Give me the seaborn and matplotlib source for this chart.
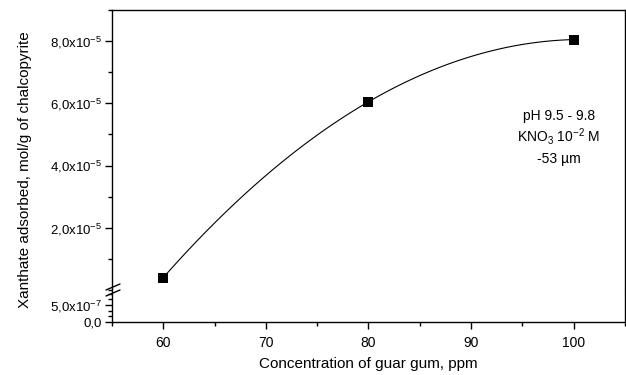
import matplotlib
matplotlib.use("Agg")
import matplotlib.pyplot as plt
from matplotlib.ticker import FixedLocator, MultipleLocator, FuncFormatter
import seaborn as sns
import pandas as pd

# Guar gum dosage (ppm) and xanthate adsorbed on chalcopyrite (mol/g)
guar_ppm = [60, 80, 100]
xanthate_adsorbed = [4.0e-6, 6.05e-5, 8.05e-5]

x_ticks = [60, 70, 80, 90, 100]
upper_ticks = [2.0e-5, 4.0e-5, 6.0e-5, 8.0e-5]
upper_labels = ["2,0x10$^{-5}$", "4,0x10$^{-5}$", "6,0x10$^{-5}$", "8,0x10$^{-5}$"]
lower_ticks = [0.0, 5.0e-7]
lower_labels = ["0,0", "5,0x10$^{-7}$"]
conditions = ["pH 9.5 - 9.8", "KNO$_3$ 10$^{-2}$ M", "-53 \u00b5m"]

df = pd.DataFrame({"guar": guar_ppm, "xanthate": xanthate_adsorbed})

sns.set_theme(style="ticks")
plt.rcParams["font.family"] = ["Liberation Sans", "DejaVu Sans"]
plt.rcParams["mathtext.default"] = "regular"
plt.rcParams["axes.linewidth"] = 1.0
plt.rcParams["xtick.major.width"] = 1.0
plt.rcParams["ytick.major.width"] = 1.0
plt.rcParams["xtick.minor.width"] = 1.0
plt.rcParams["ytick.minor.width"] = 1.0

W, H = 626, 375
fig = plt.figure(figsize=(W / 100, H / 100), dpi=100)

left, right = 112 / W, 625 / W
y_top, y_break, y_bottom = 10, 290, 322
ax = fig.add_axes([left, 1 - y_break / H, right - left, (y_break - y_top) / H])
axl = fig.add_axes([left, 1 - y_bottom / H, right - left, (y_bottom - y_break) / H], sharex=ax)

for a in (ax, axl):
    a.set_facecolor("white")
    for s in a.spines.values():
        s.set_color("black")
    a.tick_params(colors="black", labelcolor="black", labelsize=9.5,
                  direction="out", which="major", length=5, pad=2.5)
    a.tick_params(which="minor", direction="out", length=3, colors="black")

# fitted curve through the measurements, then the measured points
sns.regplot(data=df, x="guar", y="xanthate", order=2, ci=None, scatter=False,
            truncate=True, ax=ax, line_kws=dict(color="black", lw=0.8))
sns.scatterplot(data=df, x="guar", y="xanthate", ax=ax, marker="s", s=55,
                color="black", edgecolor="black", linewidth=0, zorder=5)

ax.set_xlim(55, 105)
ax.set_ylim(0, 9e-5)
ax.yaxis.set_major_locator(FixedLocator(upper_ticks))
ax.set_yticklabels(upper_labels)
ax.yaxis.set_minor_locator(MultipleLocator(1e-5))
ax.spines["bottom"].set_visible(False)
ax.tick_params(axis="x", which="both", bottom=False, labelbottom=False)
ax.set_xlabel("")
ax.set_ylabel("")

axl.set_ylim(0, (y_bottom - y_break) / 17 * 5e-7)
axl.yaxis.set_major_locator(FixedLocator(lower_ticks))
axl.set_yticklabels(lower_labels)
axl.yaxis.set_minor_locator(MultipleLocator(5e-7 / 3))
axl.spines["top"].set_visible(False)
axl.xaxis.set_major_locator(FixedLocator(x_ticks))
axl.xaxis.set_minor_locator(MultipleLocator(5))
axl.xaxis.set_major_formatter(FuncFormatter(lambda v, p: f"{v:.0f}"))
axl.tick_params(axis="x", labelsize=10, pad=5)
axl.set_xlabel("Concentration of guar gum, ppm", fontsize=11, color="black", labelpad=5)

fig.text(25 / W, 1 - 170 / H, "Xanthate adsorbed, mol/g of chalcopyrite",
         rotation=90, ha="center", va="center", fontsize=11, color="black")

# axis break marks on the left spine
for dy in (-3, 3):
    yb = 1 - (y_break + dy) / H
    fig.add_artist(plt.Line2D([left - 6 / W, left + 8 / W], [yb - 3 / H, yb + 3 / H],
                              transform=fig.transFigure, color="black", lw=1.0))

for txt, yy in zip(conditions, [116, 137, 159]):
    fig.text(559 / W, 1 - yy / H, txt, ha="center", va="center", fontsize=10, color="black")

fig.savefig("out.png", dpi=100, facecolor="white")
